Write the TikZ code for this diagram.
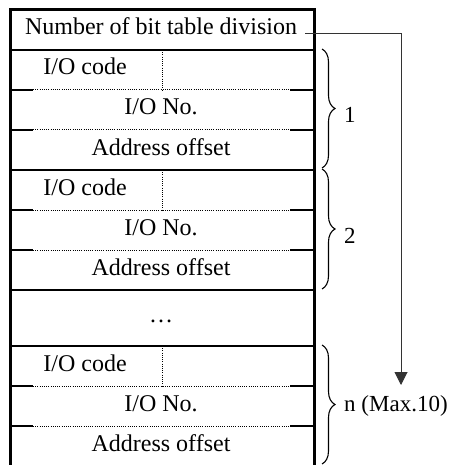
\documentclass[tikz,border=0pt]{standalone}
\usepackage{fontspec}
\setmainfont{Liberation Serif}
\usetikzlibrary{decorations.pathreplacing,arrows.meta}
\begin{document}
\begin{tikzpicture}[x=1pt,y=-1pt,
  txt/.style={font=\fontsize{24}{28}\selectfont, inner sep=0pt, anchor=base},
  lbl/.style={font=\fontsize{23}{27}\selectfont, inner sep=0pt, anchor=west},
  outer/.style={line width=3pt},
  solidline/.style={line width=2pt},
  dotline/.style={line width=1pt, dash pattern=on 1pt off 1.2pt},
  bracestyle/.style={decorate, decoration={brace, amplitude=13pt}, line width=1.1pt},
  conn/.style={line width=1pt, draw=black!80}
]
\clip (0,0) rectangle (454,465);
\path[use as bounding box] (0,0) rectangle (454,465);
% outer box
\draw[outer] (10,470) -- (10,10) -- (314,10) -- (314,470);
% solid separators
\foreach \y in {50,170,290,346} \draw[solidline] (10,\y) -- (314,\y);
% partly dotted separators
\foreach \y in {90,130,210,250,386,426} {
  \draw[solidline] (10,\y) -- (33,\y);
  \draw[solidline] (290,\y) -- (314,\y);
  \draw[dotline] (33,\y) -- (290,\y);
}
% vertical dotted in I/O code rows
\foreach \y in {50,170,346} \draw[dotline] (162,\y) -- (162,\y+40);
% texts
\node[txt] (title) at (161,35) {Number of bit table division};
\node[txt] (c1) at (85,75) {I/O code};
\node[txt] (n1) at (161,115) {I/O No.};
\node[txt] (a1) at (161,155) {Address offset};
\node[txt] (c2) at (85,195) {I/O code};
\node[txt] (n2) at (161,235) {I/O No.};
\node[txt] (a2) at (161,275) {Address offset};
\node[txt] (dots) at (161,322) {…};
\node[txt] (c3) at (85,371) {I/O code};
\node[txt] (n3) at (161,411) {I/O No.};
\node[txt] (a3) at (161,451) {Address offset};
% braces
\draw[bracestyle] (322,49) -- (322,168);
\draw[bracestyle] (322,169) -- (322,289);
\draw[bracestyle] (322,345) -- (322,464);
\node[lbl] (l1) at (344,115) {1};
\node[lbl] (l2) at (344,236) {2};
\node[lbl] (ln) at (344,406) {n (Max.10)};
% connector
\coordinate (cs) at (305,34);
\coordinate (ce) at (401,385);
\draw[conn, -{Triangle[width=13pt,length=13pt]}] (cs) -| (ce);
\end{tikzpicture}
\end{document}
